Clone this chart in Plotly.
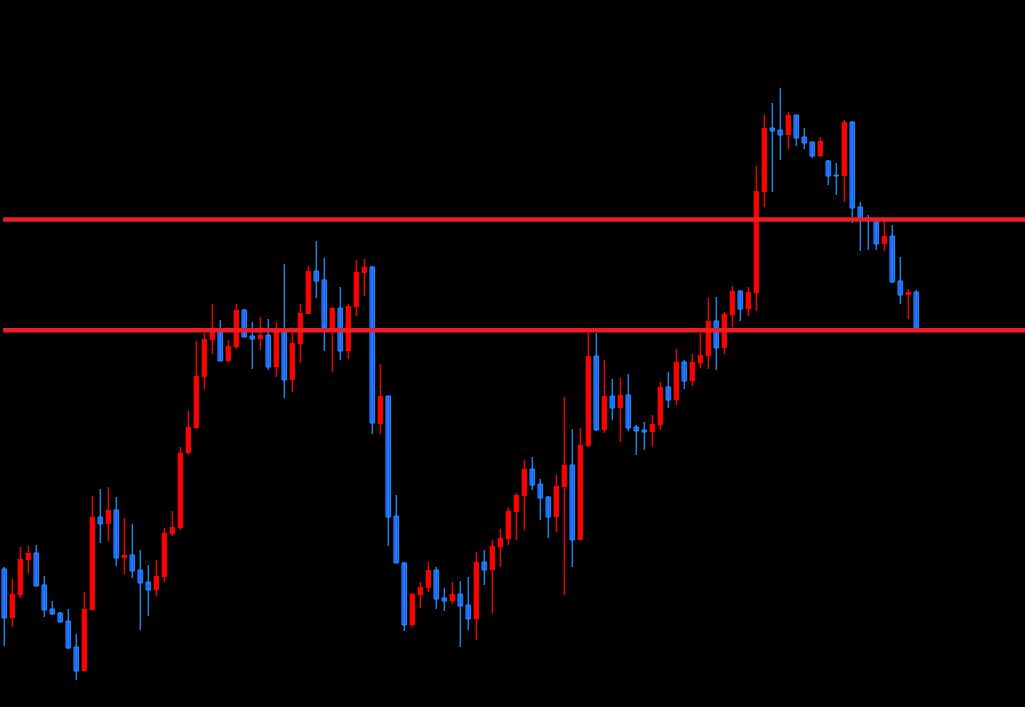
import plotly.graph_objects as go

opens = [138, 89, 112, 147, 154, 122, 98, 94, 86, 60, 36, 97, 190, 183, 197, 149, 152, 137, 125, 117,
         130, 173, 179, 254, 279, 330, 367, 377, 346, 360, 397, 371, 368, 372, 340, 376, 327, 363, 393, 436,
         427, 377, 399, 356, 400, 434, 440, 283, 311, 191, 144, 82, 112, 119, 137, 109, 106, 113, 102, 88,
         145, 137, 160, 168, 195, 211, 238, 223, 210, 190, 220, 242, 167, 261, 351, 277, 311, 299, 312, 280,
         277, 275, 282, 320, 307, 345, 326, 344, 351, 386, 359, 392, 416, 398, 414, 515, 579, 577, 572, 592,
         570, 565, 551, 546, 532, 531, 585, 500, 489, 487, 463, 471, 426, 412, 415]
highs = [140, 128, 160, 161, 162, 131, 106, 95, 98, 73, 115, 211, 218, 220, 210, 189, 183, 157, 142, 147,
         179, 196, 260, 296, 366, 374, 403, 387, 367, 403, 398, 385, 390, 388, 385, 443, 377, 403, 441, 466,
         449, 400, 420, 403, 447, 448, 441, 343, 311, 212, 145, 114, 125, 145, 140, 119, 125, 126, 130, 155,
         157, 167, 178, 199, 214, 247, 250, 228, 211, 232, 310, 278, 279, 377, 374, 347, 328, 329, 333, 282,
         285, 292, 325, 335, 358, 347, 353, 374, 409, 410, 395, 421, 417, 420, 541, 592, 604, 619, 595, 592,
         579, 565, 570, 547, 544, 587, 586, 505, 492, 489, 487, 482, 450, 418, 417]
lows = [61, 80, 109, 134, 121, 90, 92, 85, 58, 27, 36, 97, 164, 166, 141, 133, 129, 77, 91, 111,
        125, 171, 177, 252, 278, 318, 353, 346, 345, 358, 370, 338, 357, 337, 330, 309, 315, 344, 393, 409,
        356, 335, 347, 348, 391, 411, 273, 273, 161, 144, 76, 80, 99, 115, 98, 96, 103, 60, 77, 67,
        122, 94, 140, 162, 167, 177, 217, 187, 169, 175, 112, 140, 167, 260, 276, 274, 287, 265, 276, 252,
        257, 261, 277, 299, 302, 318, 321, 339, 338, 337, 353, 380, 386, 391, 396, 500, 515, 547, 558, 561,
        558, 549, 550, 522, 512, 505, 484, 456, 457, 457, 456, 424, 403, 388, 378]
closes = [89, 113, 148, 154, 121, 97, 93, 85, 59, 36, 98, 190, 183, 197, 149, 152, 136, 124, 117, 131,
          174, 180, 254, 280, 331, 368, 377, 346, 361, 397, 370, 368, 372, 340, 376, 327, 364, 394, 436, 426,
          379, 399, 356, 401, 435, 440, 284, 311, 190, 144, 82, 113, 120, 137, 108, 106, 113, 101, 88, 145,
          137, 161, 169, 196, 212, 238, 222, 209, 190, 221, 242, 167, 262, 351, 277, 311, 299, 312, 279, 276,
          275, 283, 320, 307, 345, 326, 345, 352, 386, 359, 393, 416, 398, 415, 516, 579, 576, 572, 592, 569,
          564, 551, 566, 531, 531, 585, 499, 489, 486, 463, 471, 425, 412, 415, 379]
levels = [487.5, 376.7]

RED = "#ff0000"
BLUE_FILL = "#2450ff"
BLUE_EDGE = "#1e90ff"
LEVEL_COLOR = "#ee1c25"

idx = list(range(len(opens)))
up = [c >= o for o, c in zip(opens, closes)]

fig = go.Figure()

for is_up, color in ((True, RED), (False, BLUE_EDGE)):
    wx, wy = [], []
    for i in idx:
        if up[i] == is_up:
            wx += [i, i, None]
            wy += [lows[i], highs[i], None]
    fig.add_trace(go.Scatter(x=wx, y=wy, mode="lines",
                             line=dict(color=color, width=1.3),
                             hoverinfo="skip", showlegend=False))

for is_up in (True, False):
    bx, base, hgt = [], [], []
    for i in idx:
        if up[i] == is_up:
            lo = min(opens[i], closes[i])
            hi = max(opens[i], closes[i])
            bx.append(i)
            base.append(lo)
            hgt.append(max(hi - lo, 1))
    if is_up:
        marker = dict(color=RED, line=dict(color=RED, width=0))
        w = 0.66
    else:
        marker = dict(color=BLUE_FILL, line=dict(color=BLUE_EDGE, width=1))
        w = 0.58
    fig.add_trace(go.Bar(x=bx, y=hgt, base=base, width=w, marker=marker,
                         showlegend=False))

for lv in levels:
    fig.add_shape(type="line", xref="paper", yref="y", x0=0.003, x1=1.0,
                  y0=lv, y1=lv, line=dict(color=LEVEL_COLOR, width=4.5))

fig.update_layout(
    width=1025, height=707,
    margin=dict(l=0, r=0, t=0, b=0),
    paper_bgcolor="black", plot_bgcolor="black",
    barmode="overlay", showlegend=False,
    xaxis=dict(visible=False, range=[-0.5375, -0.5375 + 1025 / 8]),
    yaxis=dict(visible=False, range=[0, 707]),
)

fig.write_html(
    "out.html",
    config={"displayModeBar": False},
    post_script="document.body.style.margin='0';document.body.style.background='black';document.body.style.overflow='hidden';",
)
